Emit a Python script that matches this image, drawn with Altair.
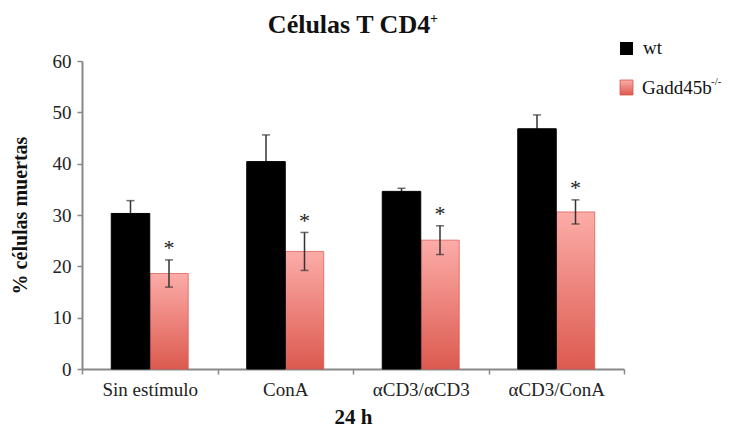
import altair as alt
import pandas as pd

# Condition labels and group values (% dead CD4+ T cells at 24 h)
conditions = ["Sin estímulo", "ConA", "αCD3/αCD3", "αCD3/ConA"]
wt_mean = [30.3, 40.4, 34.6, 46.8]
wt_err = [2.5, 5.2, 0.6, 2.7]
ko_mean = [18.6, 22.9, 25.1, 30.6]
ko_err = [2.65, 3.7, 2.8, 2.35]
groups = ["wt", "ko"]

SERIF = "Liberation Serif"
PLOT_W, PLOT_H = 542, 308

rows = []
for i, c in enumerate(conditions):
    rows.append({"cond": c, "grp": "wt", "mean": wt_mean[i], "err": wt_err[i]})
    rows.append({"cond": c, "grp": "ko", "mean": ko_mean[i], "err": ko_err[i]})
df = pd.DataFrame(rows)
df["lo"] = df["mean"] - df["err"]
df["hi"] = df["mean"] + df["err"]
df["star"] = df["hi"] + 3.2

one = pd.DataFrame({"k": [0]})  # single row for annotation marks

x_enc = alt.X(
    "cond:N",
    sort=conditions,
    scale=alt.Scale(paddingInner=0, paddingOuter=0),
    axis=alt.Axis(
        title="24 h",
        titleFont=SERIF, titleFontSize=21, titleFontWeight="bold", titleColor="#111",
        titlePadding=7,
        labelFont=SERIF, labelFontSize=19, labelColor="#222", labelAngle=0, labelPadding=6,
        tickBand="extent", tickSize=5, tickColor="#888", tickWidth=1.5,
        domainColor="#888", domainWidth=2,
    ),
)
xoff = alt.XOffset("grp:N", scale=alt.Scale(domain=groups, paddingInner=0, paddingOuter=0.76))
y_scale = alt.Scale(domain=[0, 60], nice=False)
y_axis = alt.Axis(
    title="% células muertas",
    titleFont=SERIF, titleFontSize=20, titleFontWeight="bold", titleColor="#111",
    titlePadding=22,
    labelFont=SERIF, labelFontSize=19, labelColor="#222", labelPadding=6,
    values=[0, 10, 20, 30, 40, 50, 60], tickSize=5, tickColor="#888", tickWidth=1.5,
    domainColor="#888", domainWidth=2, grid=False,
)

pink_grad = alt.Gradient(
    gradient="linear", x1=0, y1=0, x2=0, y2=1,
    stops=[alt.GradientStop(offset=0, color="#FCACA8"),
           alt.GradientStop(offset=1, color="#DC5A4F")],
)

base = alt.Chart(df)

ko_bars = base.transform_filter(alt.datum.grp == "ko").mark_bar(
    fill=pink_grad, stroke="#D9534C", strokeWidth=1, strokeOpacity=0.7
).encode(x=x_enc, xOffset=xoff, y=alt.Y("mean:Q", scale=y_scale, axis=y_axis))

err_rule = base.mark_rule(color="#333", strokeWidth=1.5).encode(
    x=x_enc, xOffset=xoff, y="lo:Q", y2="hi:Q"
)
cap_hi = base.mark_tick(color="#333", size=8, thickness=1.5).encode(
    x=x_enc, xOffset=xoff, y="hi:Q"
)
cap_lo = base.mark_tick(color="#333", size=8, thickness=1.5).encode(
    x=x_enc, xOffset=xoff, y="lo:Q"
)

wt_bars = base.transform_filter(alt.datum.grp == "wt").mark_bar(
    fill="#000", stroke="#000", strokeWidth=1
).encode(x=x_enc, xOffset=xoff, y="mean:Q")

stars = base.transform_filter(alt.datum.grp == "ko").mark_text(
    text="*", font=SERIF, fontSize=22, color="#222", baseline="middle", dy=5
).encode(x=x_enc, xOffset=xoff, y="star:Q")

ann = alt.Chart(one)

# Title with superscript
title_main = ann.mark_text(
    text="Células T CD4", font=SERIF, fontSize=26, fontWeight="bold", color="#111",
    align="center", baseline="alphabetic"
).encode(x=alt.value(267), y=alt.value(-28))
title_sup = ann.mark_text(
    text="+", font=SERIF, fontSize=14, fontWeight="bold", color="#111",
    align="left", baseline="alphabetic"
).encode(x=alt.value(348), y=alt.value(-38))

# Legend
leg_wt = ann.mark_rect(fill="#000").encode(
    x=alt.value(538), x2=alt.value(551), y=alt.value(-19), y2=alt.value(-6)
)
leg_ko = ann.mark_rect(fill=pink_grad, stroke="#D9534C", strokeWidth=0.8).encode(
    x=alt.value(538), x2=alt.value(551), y=alt.value(19), y2=alt.value(34)
)
leg_wt_txt = ann.mark_text(
    text="wt", font=SERIF, fontSize=19, color="#111", align="left", baseline="alphabetic"
).encode(x=alt.value(561), y=alt.value(-7))
leg_ko_txt = ann.mark_text(
    text="Gadd45b", font=SERIF, fontSize=19, color="#111", align="left", baseline="alphabetic"
).encode(x=alt.value(560), y=alt.value(33))
leg_ko_sup = ann.mark_text(
    text="-/-", font=SERIF, fontSize=11, color="#111", align="left", baseline="alphabetic"
).encode(x=alt.value(629), y=alt.value(24))

chart = alt.layer(
    ko_bars, err_rule, cap_hi, cap_lo, wt_bars, stars,
    title_main, title_sup, leg_wt, leg_ko, leg_wt_txt, leg_ko_txt, leg_ko_sup,
).properties(
    width=PLOT_W, height=PLOT_H,
    autosize=alt.AutoSizeParams(type="none"),
    padding={"left": 82, "top": 61, "right": 113, "bottom": 58},
).configure(background="white", view=alt.ViewConfig(stroke=None))

chart.save("out.html", embed_options={"renderer": "svg", "actions": False})
